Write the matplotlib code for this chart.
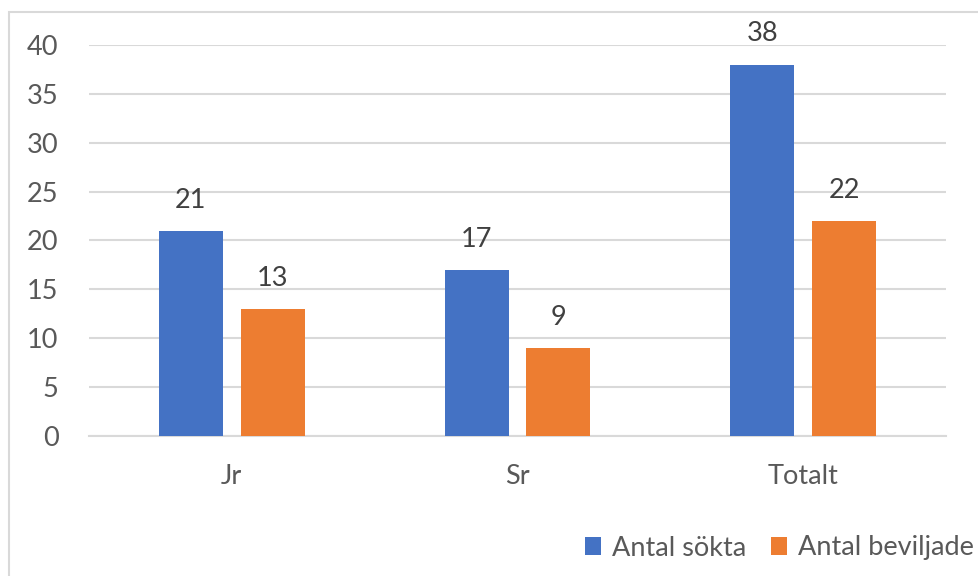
import numpy as np
import matplotlib.pyplot as plt
from matplotlib.patches import Rectangle

# --------------------------------------------------
# DATA
# --------------------------------------------------
CATEGORIES = ["Jr", "Sr", "Totalt"]
SOKTA = [21, 17, 38]
BEVILJADE = [13, 9, 22]
SERIES_NAMES = ["Antal sökta", "Antal beviljade"]
YTICKS = [0, 5, 10, 15, 20, 25, 30, 35, 40]

BLUE = "#4472C4"
ORANGE = "#ED7D31"
TEXT = "#595959"
GRID = "#D9D9D9"
FS = 19.5

plt.rcParams['font.family'] = ['Lato', 'DejaVu Sans']

fig = plt.figure(figsize=(9.79, 5.76), dpi=100)
ax = fig.add_axes([0.0909, 0.2431, 0.8754, 0.6788])

# chart frame (runs off the right and bottom edges like the screenshot)
fig.patches.append(Rectangle((9 / 979, -0.05), 1.0, 1 - 12 / 576 + 0.05,
                             transform=fig.transFigure, fill=False,
                             edgecolor=GRID, linewidth=1.5))

x = np.arange(len(CATEGORIES))
w = 0.224
gap = 0.063
b1 = ax.bar(x - (w + gap) / 2, SOKTA, w, color=BLUE, label=SERIES_NAMES[0], zorder=3)
b2 = ax.bar(x + (w + gap) / 2, BEVILJADE, w, color=ORANGE, label=SERIES_NAMES[1], zorder=3)

for bars, vals in [(b1, SOKTA), (b2, BEVILJADE)]:
    for r, v in zip(bars, vals):
        ax.annotate(str(v), (r.get_x() + r.get_width() / 2, v),
                    xytext=(0, 13), textcoords="offset points",
                    ha="center", va="bottom", fontsize=FS, color="#404040")

ax.set_xlim(-0.5, len(CATEGORIES) - 0.5)
ax.set_ylim(0, 40)
ax.set_yticks(YTICKS)
ax.set_xticks(x)
ax.set_xticklabels(CATEGORIES)
ax.tick_params(axis="both", length=0, labelsize=FS, labelcolor=TEXT)
ax.tick_params(axis="y", pad=22)
ax.tick_params(axis="x", pad=20)
ax.yaxis.grid(True, color=GRID, linewidth=1.5, zorder=0)
ax.set_axisbelow(True)
for s in ["top", "right", "left"]:
    ax.spines[s].set_visible(False)
ax.spines["bottom"].set_color(GRID)
ax.spines["bottom"].set_linewidth(1.5)

leg = fig.legend(handles=[b1, b2], labels=SERIES_NAMES, loc="center right",
                 bbox_to_anchor=(1.0, 1 - 548 / 576), ncol=2, frameon=False,
                 fontsize=FS, handlelength=0.6, handleheight=0.6,
                 handletextpad=0.4, columnspacing=0.9, borderpad=0.0,
                 borderaxespad=0.2)
for t in leg.get_texts():
    t.set_color(TEXT)

fig.savefig("out.png", dpi=100)
